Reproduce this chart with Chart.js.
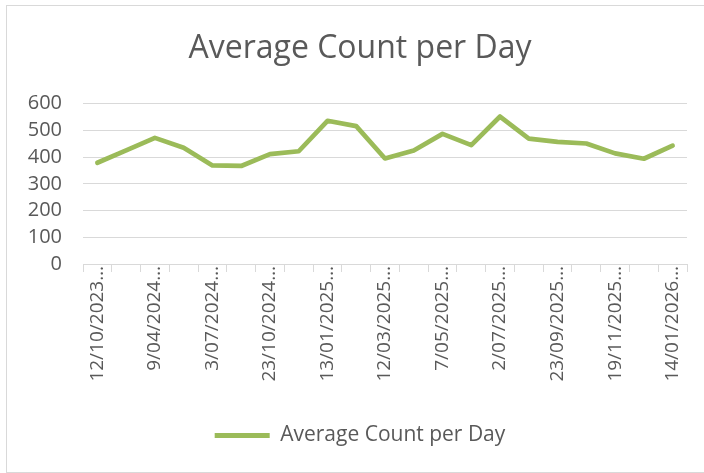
<!DOCTYPE html>
<html>
<head>
<meta charset="utf-8">
<script src="https://cdn.jsdelivr.net/npm/chart.js@4/dist/chart.umd.min.js"></script>
<style>
  html, body { margin: 0; padding: 0; background: #fff; width: 704px; height: 473px; overflow: hidden; }
  #box { position: absolute; left: 6px; top: 5px; width: 708px; height: 468px; box-sizing: border-box; border: 1px solid #d9d9d9; background: #fff; }
  #c { position: absolute; left: 0; top: 0; }
</style>
</head>
<body>
<div id="box"><canvas id="c" width="706" height="466"></canvas></div>
<script>
// Category labels (only every other one is shown on the axis in the reference)
const categories = [
  '12/10/2023…', '', '9/04/2024…', '', '3/07/2024…', '', '23/10/2024…', '',
  '13/01/2025…', '', '12/03/2025…', '', '7/05/2025…', '', '2/07/2025…', '',
  '23/09/2025…', '', '19/11/2025…', '', '14/01/2026…'
];
const averageCountPerDay = [
  379, 425, 472, 435, 369, 367, 411, 422, 536, 516, 395,
  425, 487, 445, 552, 469, 457, 451, 414, 394, 443
];
const yTicks = [0, 100, 200, 300, 400, 500, 600];
const seriesName = 'Average Count per Day';
const chartTitle = 'Average Count per Day';

const GREEN = '#9BBB59';
const TEXT = '#595959';
const GRID = '#d9d9d9';
const FONT = "'Open Sans', 'Noto Sans', sans-serif";

new Chart(document.getElementById('c'), {
  type: 'line',
  data: {
    labels: categories,
    datasets: [{
      label: seriesName,
      data: averageCountPerDay,
      borderColor: GREEN,
      backgroundColor: GREEN,
      borderWidth: 4.7,
      borderCapStyle: 'round',
      borderJoinStyle: 'round',
      pointRadius: 0,
      pointHoverRadius: 0,
      tension: 0,
      fill: false,
      yAxisID: 'y'
    }]
  },
  options: {
    responsive: false,
    animation: false,
    events: [],
    layout: { padding: { left: 0, right: 0, top: 0, bottom: 16 } },
    plugins: {
      tooltip: { enabled: false },
      title: {
        display: true,
        text: chartTitle,
        color: TEXT,
        font: { family: FONT, size: 32, weight: 'normal' },
        padding: { top: 24, bottom: 35.3 }
      },
      legend: {
        display: true,
        position: 'bottom',
        labels: {
          color: TEXT,
          font: { family: FONT, size: 21 },
          boxWidth: 55,
          boxHeight: 5,
          padding: 10,
          generateLabels: (chart) => chart.data.datasets.map((ds, i) => ({
            text: ds.label,
            fillStyle: GREEN,
            strokeStyle: GREEN,
            lineWidth: 0,
            fontColor: TEXT,
            hidden: false,
            datasetIndex: i
          }))
        }
      }
    },
    scales: {
      x: {
        type: 'category',
        offset: true,
        grid: {
          display: true,
          drawOnChartArea: false,
          drawTicks: true,
          offset: true,
          tickLength: 8,
          color: GRID,
          lineWidth: 1
        },
        border: { display: true, color: GRID, width: 1 },
        ticks: {
          autoSkip: false,
          minRotation: 90,
          maxRotation: 90,
          padding: -6,
          color: TEXT,
          font: { family: FONT, size: 19 }
        },
        afterFit: (scale) => { scale.height = 151; }
      },
      y: {
        position: 'left',
        min: 0,
        max: 600,
        afterBuildTicks: (scale) => { scale.ticks = yTicks.map(v => ({ value: v })); },
        grid: { color: GRID, lineWidth: 1, drawTicks: false },
        border: { display: false },
        ticks: {
          autoSkip: false,
          padding: 21,
          color: TEXT,
          font: { family: FONT, size: 20 }
        },
        afterFit: (scale) => { scale.width = 76; }
      },
      yRightSpace: {
        position: 'right',
        min: 0,
        max: 1,
        grid: { display: false, drawTicks: false },
        border: { display: false },
        ticks: { display: false },
        afterFit: (scale) => { scale.width = 26; }
      }
    }
  }
});
</script>
</body>
</html>
